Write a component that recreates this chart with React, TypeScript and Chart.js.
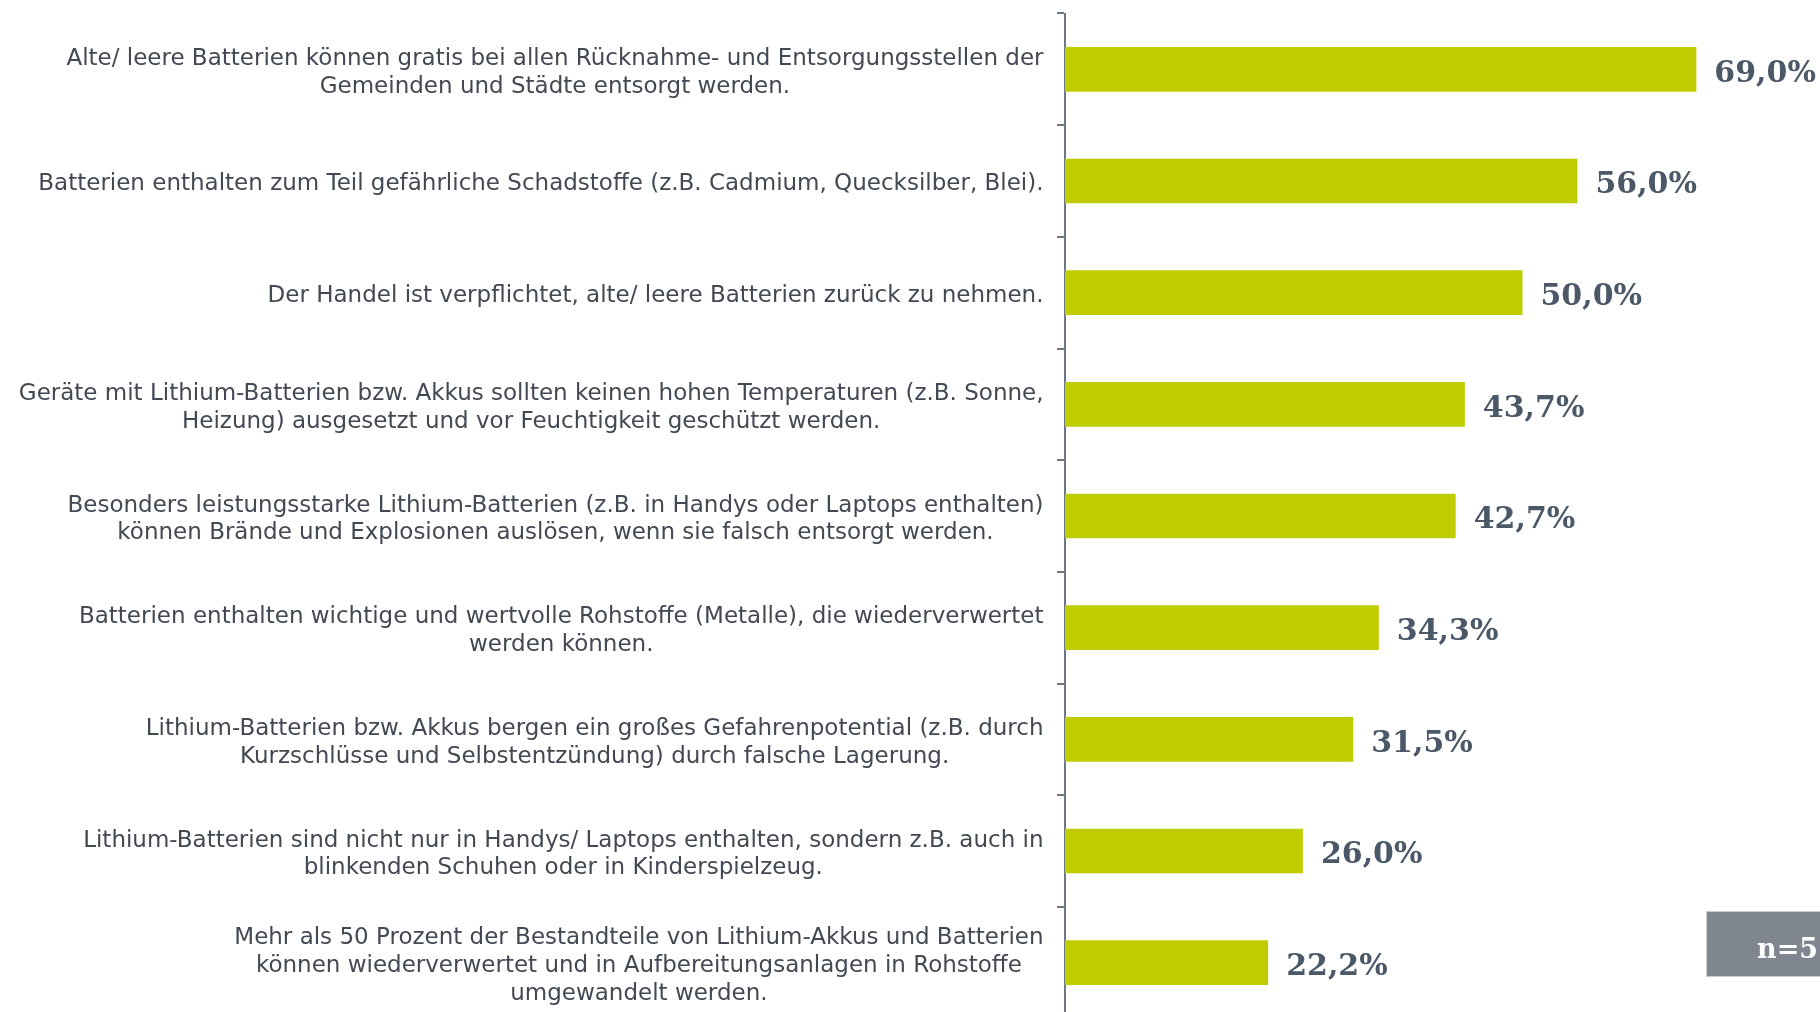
import React, { useEffect, useRef } from "react";
import { Chart, registerables } from "chart.js";

Chart.register(...registerables);

// Category labels (line breaks as in the reference)
const categories: string[][] = [
  ["Alte/ leere Batterien können gratis bei allen Rücknahme- und Entsorgungsstellen der", "Gemeinden und Städte entsorgt werden."],
  ["Batterien enthalten zum Teil gefährliche Schadstoffe (z.B. Cadmium, Quecksilber, Blei)."],
  ["Der Handel ist verpflichtet, alte/ leere Batterien zurück zu nehmen."],
  ["Geräte mit Lithium-Batterien bzw. Akkus sollten keinen hohen Temperaturen (z.B. Sonne,", "Heizung) ausgesetzt und vor Feuchtigkeit geschützt werden."],
  ["Besonders leistungsstarke Lithium-Batterien (z.B. in Handys oder Laptops enthalten)", "können Brände und Explosionen auslösen, wenn sie falsch entsorgt werden."],
  ["Batterien enthalten wichtige und wertvolle Rohstoffe (Metalle), die wiederverwertet", "werden können."],
  ["Lithium-Batterien bzw. Akkus bergen ein großes Gefahrenpotential (z.B. durch", "Kurzschlüsse und Selbstentzündung) durch falsche Lagerung."],
  ["Lithium-Batterien sind nicht nur in Handys/ Laptops enthalten, sondern z.B. auch in", "blinkenden Schuhen oder in Kinderspielzeug."],
  ["Mehr als 50 Prozent der Bestandteile von Lithium-Akkus und Batterien", "können wiederverwertet und in Aufbereitungsanlagen in Rohstoffe", "umgewandelt werden."],
];

const values: number[] = [69.0, 56.0, 50.0, 43.7, 42.7, 34.3, 31.5, 26.0, 22.2];

const valueLabels: string[] = ["69,0%", "56,0%", "50,0%", "43,7%", "42,7%", "34,3%", "31,5%", "26,0%", "22,2%"];

const sampleNote = "n=5";

const BAR_COLOR = "#BFCD00";
const AXIS_COLOR = "#6c7884";
const LABEL_COLOR = "#434953";
const VALUE_COLOR = "#4a5868";

const labelsPlugin = {
  id: "customLabels",
  afterDatasetsDraw(chart: any) {
    const ctx = chart.ctx as CanvasRenderingContext2D;
    const yScale = chart.scales.y;
    const meta = chart.getDatasetMeta(0);
    const area = chart.chartArea;
    ctx.save();

    // category labels: block right-aligned, lines centered within the block
    ctx.font = '23px "DejaVu Sans"';
    ctx.fillStyle = LABEL_COLOR;
    ctx.textAlign = "center";
    ctx.textBaseline = "middle";
    const labelRight = area.left - 21.5;
    const lineH = 27.9;
    categories.forEach((lines, i) => {
      const cy = yScale.getPixelForValue(i) + 3.5;
      const w = Math.max(...lines.map((l) => ctx.measureText(l).width));
      const cx = labelRight - w / 2;
      lines.forEach((l, j) => {
        ctx.fillText(l, cx, cy + (j - (lines.length - 1) / 2) * lineH);
      });
    });

    // value labels
    ctx.font = 'bold 30px "DejaVu Serif"';
    ctx.fillStyle = VALUE_COLOR;
    ctx.textAlign = "left";
    meta.data.forEach((bar: any, i: number) => {
      ctx.fillText(valueLabels[i], bar.x + 18, bar.y + 4.5);
    });

    // sample-size box (cut off at the right edge)
    const bx = 1706.5;
    const by = 911.5;
    ctx.fillStyle = "#7f868f";
    ctx.fillRect(bx, by, 320, 65);
    ctx.strokeStyle = "#c9cdd2";
    ctx.lineWidth = 1;
    ctx.strokeRect(bx, by, 320, 65);
    ctx.font = 'bold 27px "DejaVu Serif"';
    ctx.fillStyle = "#ffffff";
    ctx.textAlign = "left";
    ctx.textBaseline = "middle";
    ctx.fillText(sampleNote, 1757, 951);

    ctx.restore();
  },
};

export default function App() {
  const canvasRef = useRef<HTMLCanvasElement | null>(null);

  useEffect(() => {
    const canvas = canvasRef.current;
    if (!canvas) return;
    const chart = new Chart(canvas, {
      type: "bar",
      data: {
        labels: categories.map((c) => c.join(" ")),
        datasets: [
          {
            data: values,
            backgroundColor: BAR_COLOR,
            borderWidth: 0,
            barPercentage: 0.4,
            categoryPercentage: 1.0,
          },
        ],
      },
      options: {
        indexAxis: "y",
        responsive: false,
        animation: false,
        devicePixelRatio: 1,
        layout: { padding: { top: 13.5, bottom: 11.5, left: 0, right: 0 } },
        plugins: {
          legend: { display: false },
          tooltip: { enabled: false },
        },
        scales: {
          x: {
            display: false,
            min: 0,
            max: 100,
          },
          y: {
            z: 1,
            ticks: { display: false },
            grid: {
              display: true,
              drawOnChartArea: false,
              drawTicks: true,
              tickLength: 8,
              color: AXIS_COLOR,
              lineWidth: 2,
              offset: true,
            },
            border: { display: true, color: AXIS_COLOR, width: 2 },
            afterFit: (scale: any) => {
              scale.width = 1065;
            },
          },
        },
      },
      plugins: [labelsPlugin],
    } as any);
    return () => chart.destroy();
  }, []);

  return (
    <div
      style={{
        position: "fixed",
        left: 0,
        top: 0,
        width: 1820,
        height: 1012,
        overflow: "hidden",
        background: "#ffffff",
      }}
    >
      <canvas ref={canvasRef} width={1980} height={1030} style={{ display: "block" }} />
    </div>
  );
}
